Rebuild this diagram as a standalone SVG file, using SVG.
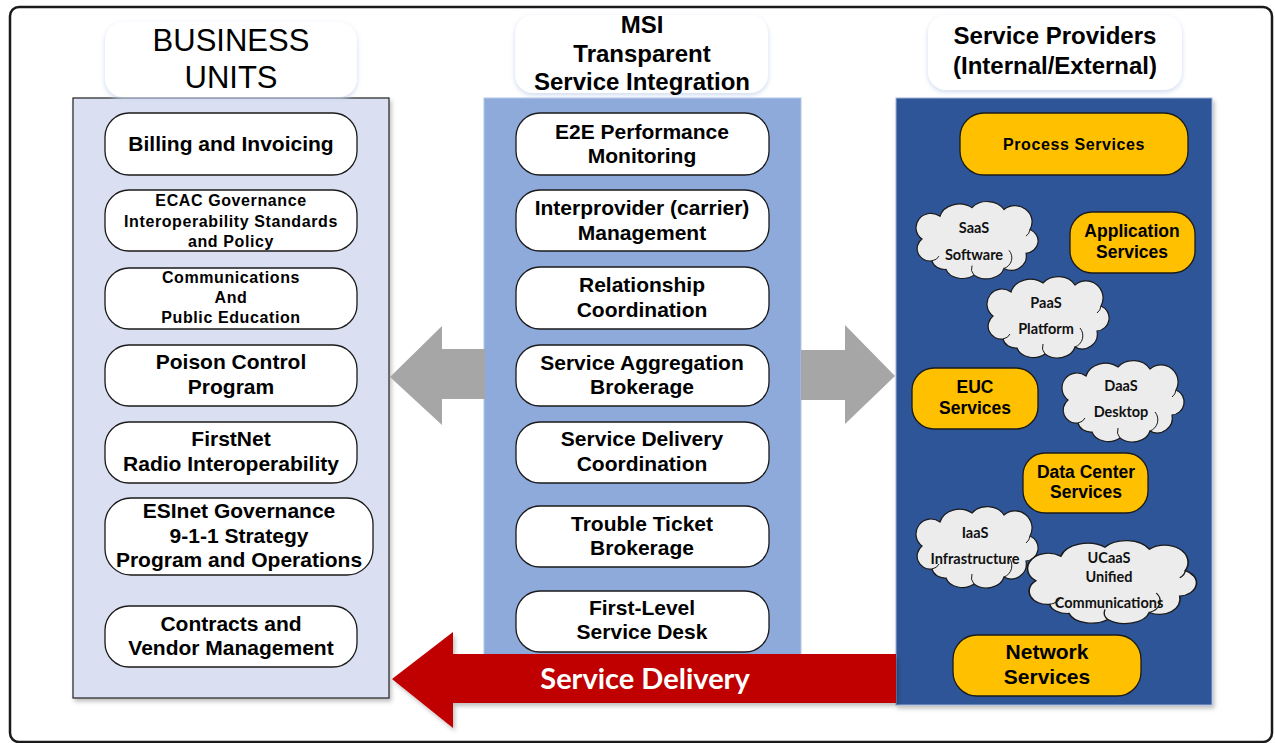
<svg xmlns="http://www.w3.org/2000/svg" xmlns:xlink="http://www.w3.org/1999/xlink" width="1275" height="743" viewBox="0 0 1275 743">
<style>
.node{fill:#fff;stroke:#1a1a1a;stroke-width:1.3}
.ynode{fill:#ffc000;stroke:#1a1a1a;stroke-width:1.3}
.title{fill:#fff;stroke:none}
.t{font-family:"Liberation Sans",Arial,sans-serif;font-weight:bold;fill:#000;text-anchor:middle}
.L{font-size:21px}
.S{font-size:16px;letter-spacing:0.6px}
.Y{font-size:17.5px}
.c{font-family:Lato,"Open Sans",sans-serif;font-weight:bold;fill:#111;text-anchor:middle;font-size:14.5px}
.cloud{fill:#ececec;stroke:#1a1a1a;stroke-width:1.2}
.curl{fill:none;stroke:#1a1a1a;stroke-width:1}
</style>
<defs>
<filter id="glow" x="-10%" y="-10%" width="120%" height="130%">
<feDropShadow dx="0" dy="2" stdDeviation="2.5" flood-color="#c9d6ee" flood-opacity="0.9"/>
</filter>
<filter id="sh" x="-5%" y="-5%" width="115%" height="115%">
<feDropShadow dx="2" dy="3" stdDeviation="2" flood-color="#000" flood-opacity="0.25"/>
</filter>
<g id="cloudp">
<path class="cloud" d="M20,63 A13,13 0 0 1 10,40 A15,15 0 0 1 28,16 A20,17 0 0 1 60,7 A19,16 0 0 1 92,9 A17,17 0 0 1 118,30 A13,13 0 0 1 114,55 A15,15 0 0 1 92,71 A18,14 0 0 1 62,78 A17,13 0 0 1 34,72 A13,11 0 0 1 20,63 Z"/>
<path class="curl" d="M20,63 A10,8 0 0 0 27,58 M92,71 A12,12 0 0 0 97,52 M62,78 A10,10 0 0 1 60,68 M118,30 A10,10 0 0 1 114,37"/>
</g>
</defs>
<rect x="0" y="0" width="1275" height="743" fill="#fff"/>
<rect x="10" y="7" width="1262" height="735" rx="9" fill="#fff" stroke="#1a1a1a" stroke-width="2.5"/>

<!-- panels -->
<g id="panel-business">
<rect x="73" y="98" width="316" height="600" fill="#dae0f2" stroke="#222" stroke-width="1.2" filter="url(#sh)"/>
</g>
<g id="panel-msi">
<rect x="484" y="98" width="317" height="600" fill="#8eaadb" stroke="#b4c6e7" stroke-width="1"/>
</g>
<g id="panel-providers">
<rect x="896" y="98" width="316" height="607" fill="#2f5597" stroke="#9fb3d8" stroke-width="1" filter="url(#sh)"/>
</g>

<!-- titles -->
<g id="title-business">
<rect class="title" x="105" y="22" width="252" height="75" rx="18" filter="url(#glow)"/>
<text x="231" y="51" font-family="Liberation Sans,Arial,sans-serif" font-size="31" text-anchor="middle" fill="#000">BUSINESS</text>
<text x="231" y="88" font-family="Liberation Sans,Arial,sans-serif" font-size="31" text-anchor="middle" fill="#000">UNITS</text>
</g>
<g id="title-msi">
<rect class="title" x="515" y="15" width="253" height="78" rx="18" filter="url(#glow)"/>
<text class="t" x="642" y="33" font-size="24">MSI</text>
<text class="t" x="642" y="62" font-size="24">Transparent</text>
<text class="t" x="642" y="90" font-size="24">Service Integration</text>
</g>
<g id="title-providers">
<rect class="title" x="928" y="15" width="254" height="75" rx="18" filter="url(#glow)"/>
<text class="t" x="1055" y="44" font-size="24">Service Providers</text>
<text class="t" x="1055" y="74" font-size="24">(Internal/External)</text>
</g>

<!-- connectors / arrows -->
<g id="connectors">
<polygon points="485,349 442,349 442,326 390,377 442,425 442,399 485,399" fill="#a6a6a6"/>
<polygon points="801,350 845,350 845,325 895,376 845,424 845,400 801,400" fill="#a6a6a6"/>
<polygon points="896,654 453,654 453,632 392,679 453,728 453,703 896,703" fill="#c00000" filter="url(#sh)"/>
<text x="645" y="689" font-family="Lato,'Open Sans',sans-serif" font-weight="bold" font-size="29" fill="#fff" text-anchor="middle">Service Delivery</text>
</g>

<!-- business unit nodes -->
<g id="n-billing"><rect class="node" x="105" y="113" width="252" height="62" rx="24"/>
<text class="t L" x="231" y="151">Billing and Invoicing</text></g>
<g id="n-ecac"><rect class="node" x="105" y="190" width="252" height="61" rx="24"/>
<text class="t S" x="231" y="206">ECAC Governance</text>
<text class="t S" x="231" y="227">Interoperability Standards</text>
<text class="t S" x="231" y="247">and Policy</text></g>
<g id="n-comm"><rect class="node" x="105" y="268" width="252" height="61" rx="24"/>
<text class="t S" x="231" y="283">Communications</text>
<text class="t S" x="231" y="303">And</text>
<text class="t S" x="231" y="323">Public Education</text></g>
<g id="n-poison"><rect class="node" x="105" y="345" width="252" height="61" rx="24"/>
<text class="t L" x="231" y="369">Poison Control</text>
<text class="t L" x="231" y="394">Program</text></g>
<g id="n-firstnet"><rect class="node" x="105" y="422" width="252" height="61" rx="24"/>
<text class="t L" x="231" y="446">FirstNet</text>
<text class="t L" x="231" y="471">Radio Interoperability</text></g>
<g id="n-esinet"><rect class="node" x="105" y="498" width="268" height="77" rx="26"/>
<text class="t L" x="239" y="518">ESInet Governance</text>
<text class="t L" x="239" y="543">9-1-1 Strategy</text>
<text class="t L" x="239" y="567">Program and Operations</text></g>
<g id="n-contracts"><rect class="node" x="105" y="606" width="252" height="61" rx="24"/>
<text class="t L" x="231" y="631">Contracts and</text>
<text class="t L" x="231" y="655">Vendor Management</text></g>

<!-- MSI nodes -->
<g id="n-e2e"><rect class="node" x="516" y="113" width="253" height="62" rx="24"/>
<text class="t L" x="642" y="139">E2E Performance</text>
<text class="t L" x="642" y="163">Monitoring</text></g>
<g id="n-interprovider"><rect class="node" x="516" y="190" width="253" height="61" rx="24"/>
<text class="t L" x="642" y="215">Interprovider (carrier)</text>
<text class="t L" x="642" y="240">Management</text></g>
<g id="n-relationship"><rect class="node" x="516" y="267" width="253" height="62" rx="24"/>
<text class="t L" x="642" y="292">Relationship</text>
<text class="t L" x="642" y="317">Coordination</text></g>
<g id="n-aggregation"><rect class="node" x="516" y="345" width="253" height="61" rx="24"/>
<text class="t L" x="642" y="370">Service Aggregation</text>
<text class="t L" x="642" y="394">Brokerage</text></g>
<g id="n-delivery"><rect class="node" x="516" y="422" width="253" height="61" rx="24"/>
<text class="t L" x="642" y="446">Service Delivery</text>
<text class="t L" x="642" y="471">Coordination</text></g>
<g id="n-trouble"><rect class="node" x="516" y="506" width="253" height="61" rx="24"/>
<text class="t L" x="642" y="531">Trouble Ticket</text>
<text class="t L" x="642" y="555">Brokerage</text></g>
<g id="n-firstlevel"><rect class="node" x="516" y="591" width="253" height="61" rx="24"/>
<text class="t L" x="642" y="615">First-Level</text>
<text class="t L" x="642" y="639">Service Desk</text></g>

<!-- provider nodes -->
<g id="n-process"><rect class="ynode" x="960" y="113" width="228" height="62" rx="24"/>
<text class="t" x="1074" y="150" font-size="16" letter-spacing="0.6">Process Services</text></g>
<g id="n-application"><rect class="ynode" x="1070" y="212" width="125" height="61" rx="22"/>
<text class="t Y" x="1132" y="237">Application</text>
<text class="t Y" x="1132" y="258">Services</text></g>
<g id="n-euc"><rect class="ynode" x="912" y="368" width="126" height="61" rx="22"/>
<text class="t Y" x="975" y="393">EUC</text>
<text class="t Y" x="975" y="414">Services</text></g>
<g id="n-datacenter"><rect class="ynode" x="1023" y="453" width="125" height="60" rx="22"/>
<text class="t Y" x="1086" y="478">Data Center</text>
<text class="t Y" x="1086" y="498">Services</text></g>
<g id="n-network"><rect class="ynode" x="953" y="635" width="188" height="61" rx="24"/>
<text class="t L" x="1047" y="659">Network</text>
<text class="t L" x="1047" y="684">Services</text></g>

<!-- clouds -->
<g id="n-saas">
<use xlink:href="#cloudp" transform="translate(912,201) scale(1,0.95)"/>
<text class="c" x="974" y="233">SaaS</text>
<text class="c" x="974" y="260">Software</text></g>
<g id="n-paas">
<use xlink:href="#cloudp" transform="translate(983,276)"/>
<text class="c" x="1046" y="308">PaaS</text>
<text class="c" x="1046" y="334">Platform</text></g>
<g id="n-daas">
<use xlink:href="#cloudp" transform="translate(1058,360)"/>
<text class="c" x="1121" y="391">DaaS</text>
<text class="c" x="1121" y="417">Desktop</text></g>
<g id="n-iaas">
<use xlink:href="#cloudp" transform="translate(912,506)"/>
<text class="c" x="975" y="538">IaaS</text>
<text class="c" x="975" y="564">Infrastructure</text></g>
<g id="n-ucaas">
<use xlink:href="#cloudp" transform="translate(1022,540) scale(1.384,1.02)"/>
<text class="c" x="1109" y="563">UCaaS</text>
<text class="c" x="1109" y="582">Unified</text>
<text class="c" x="1109" y="608">Communications</text></g>
</svg>
